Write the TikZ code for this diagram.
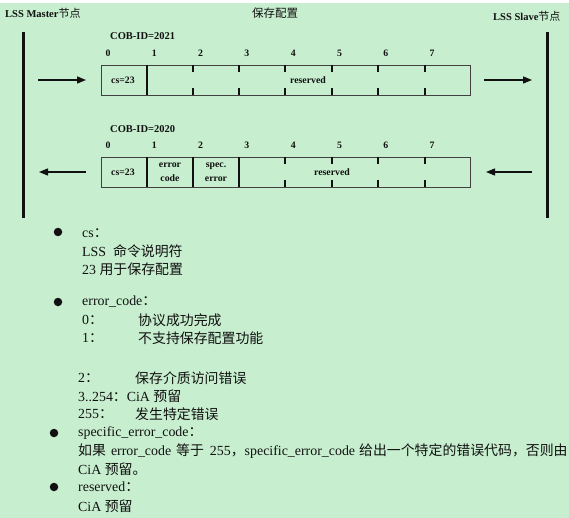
\documentclass[tikz,border=0pt]{standalone}
\usepackage{fontspec}
\setmainfont{Liberation Serif}
\newfontfamily\cjk{Noto Sans CJK SC}
\usetikzlibrary{arrows.meta}
\definecolor{bg}{HTML}{C7EECE}
\definecolor{ink}{HTML}{111111}
\begin{document}
\begin{tikzpicture}[x=1pt,y=-1pt,
  hdr/.style={font=\bfseries\fontsize{10.5}{12}\selectfont, inner sep=0pt, text=ink},
  lbl/.style={font=\bfseries\fontsize{9.8}{11}\selectfont, inner sep=0pt, text=ink, align=center},
  txt/.style={font=\fontsize{13.9}{15}\selectfont, inner sep=0pt, anchor=west, text=ink},
  frame/.style={draw=black!75, line width=0.9pt},
  sep/.style={draw=ink, line width=2pt},
  tickm/.style={draw=ink, line width=1.8pt},
  bar/.style={draw=ink, line width=3pt},
  arr/.style={draw=ink, line width=1.4pt, -{Triangle[length=9pt,width=7pt]}},
  dot/.style={circle, fill=ink, inner sep=0pt, minimum size=8.5pt}]
\useasboundingbox (0,0) rectangle (569,518);
\fill[bg] (0,0) rectangle (569,518);
\fill[white] (0,0) rectangle (569,3);

% headers
\node[hdr, anchor=west] (master) at (5,13) {LSS Master{\mdseries\cjk\fontsize{11}{12}\selectfont 节点}};
\node[hdr, anchor=west] (title) at (252,13) {\mdseries\cjk\fontsize{11.5}{12}\selectfont 保存配置};
\node[hdr, anchor=west] (slave) at (493,16) {LSS Slave{\mdseries\cjk\fontsize{11}{12}\selectfont 节点}};

% vertical bars
\coordinate (mt) at (23,32); \coordinate (mb) at (23,218);
\coordinate (st) at (547,32); \coordinate (sb) at (547,218);
\draw[bar] (mt) -- (mb);
\draw[bar] (st) -- (sb);

% ---------- frame 1 ----------
\node[hdr, anchor=west] (cob1) at (110,36) {COB-ID=2021};
\foreach \i in {0,...,7} {
  \node[lbl] (n1\i) at ({108+46.3*\i},53) {\i};
}
\node[frame, anchor=north west, minimum width=369pt, minimum height=30pt, inner sep=0pt] (f1) at (101,65) {};
\draw[sep] (147,65) -- (147,95);
\foreach \x in {193,239,285,332,378,425} {
  \draw[tickm] (\x,65) -- (\x,72);
  \draw[tickm] (\x,88) -- (\x,95);
}
\node[lbl] (cs1) at (123,80) {cs=23};
\node[lbl] (res1) at (308,80) {reserved};
\coordinate (a1s) at (38,80); \coordinate (a1e) at (86,80);
\coordinate (a2s) at (484,80); \coordinate (a2e) at (532,80);
\draw[arr] (a1s) -- (a1e);
\draw[arr] (a2s) -- (a2e);

% ---------- frame 2 ----------
\node[hdr, anchor=west] (cob2) at (110,129) {COB-ID=2020};
\foreach \i in {0,...,7} {
  \node[lbl] (n2\i) at ({108+46.3*\i},145) {\i};
}
\node[frame, anchor=north west, minimum width=369pt, minimum height=30pt, inner sep=0pt] (f2) at (101,157) {};
\foreach \x in {147,193,239} {
  \draw[sep] (\x,157) -- (\x,187);
}
\foreach \x in {285,332,378,425} {
  \draw[tickm] (\x,157) -- (\x,164);
  \draw[tickm] (\x,180) -- (\x,187);
}
\node[lbl] (cs2) at (123,172) {cs=23};
\node[lbl, font=\bfseries\fontsize{9.8}{13.5}\selectfont] (ec) at (170,172) {error\\code};
\node[lbl, font=\bfseries\fontsize{9.8}{13.5}\selectfont] (se) at (216,172) {spec.\\error};
\node[lbl] (res2) at (332,172) {reserved};
\coordinate (b1s) at (86,172); \coordinate (b1e) at (39,172);
\coordinate (b2s) at (532,172); \coordinate (b2e) at (486,172);
\draw[arr] (b1s) -- (b1e);
\draw[arr] (b2s) -- (b2e);

% ---------- description ----------
\node[dot] (d1) at (58,232) {};
\node[txt] (t1) at (82,233) {cs{\cjk ：}};
\node[txt] (t2) at (82,251) {LSS\ \ {\cjk 命令说明符}};
\node[txt] (t3) at (82,269) {23 {\cjk 用于保存配置}};

\node[dot] (d2) at (58,302) {};
\node[txt] (t4) at (82,302) {error\_code{\cjk ：}};
\node[txt] (t5) at (82,320) {0{\cjk ：}};
\node[txt] (t5b) at (138,320) {\cjk 协议成功完成};
\node[txt] (t6) at (82,338) {1{\cjk ：}};
\node[txt] (t6b) at (138,338) {\cjk 不支持保存配置功能};

\node[txt] (t7) at (78,378) {2{\cjk ：}};
\node[txt] (t7b) at (135,378) {\cjk 保存介质访问错误};
\node[txt] (t8) at (78,396) {3..254{\cjk ：}CiA {\cjk 预留}};
\node[txt] (t9) at (78,414) {255{\cjk ：}};
\node[txt] (t9b) at (135,414) {\cjk 发生特定错误};

\node[dot] (d3) at (54,433) {};
\node[txt] (t10) at (78,433) {specific\_error\_code{\cjk ：}};
\node[txt] (t11) at (78,451) {{\cjk 如果}\hspace{5pt}error\_code\hspace{5pt}{\cjk 等于}\hspace{6pt}255{\cjk ，}specific\_error\_code\hspace{4pt}{\cjk 给出一个特定的错误代码，否则由}};
\node[txt] (t12) at (78,469) {CiA {\cjk 预留。}};

\node[dot] (d4) at (54,487) {};
\node[txt] (t13) at (78,487) {reserved{\cjk ：}};
\node[txt] (t14) at (78,506) {CiA {\cjk 预留}};
\end{tikzpicture}
\end{document}
